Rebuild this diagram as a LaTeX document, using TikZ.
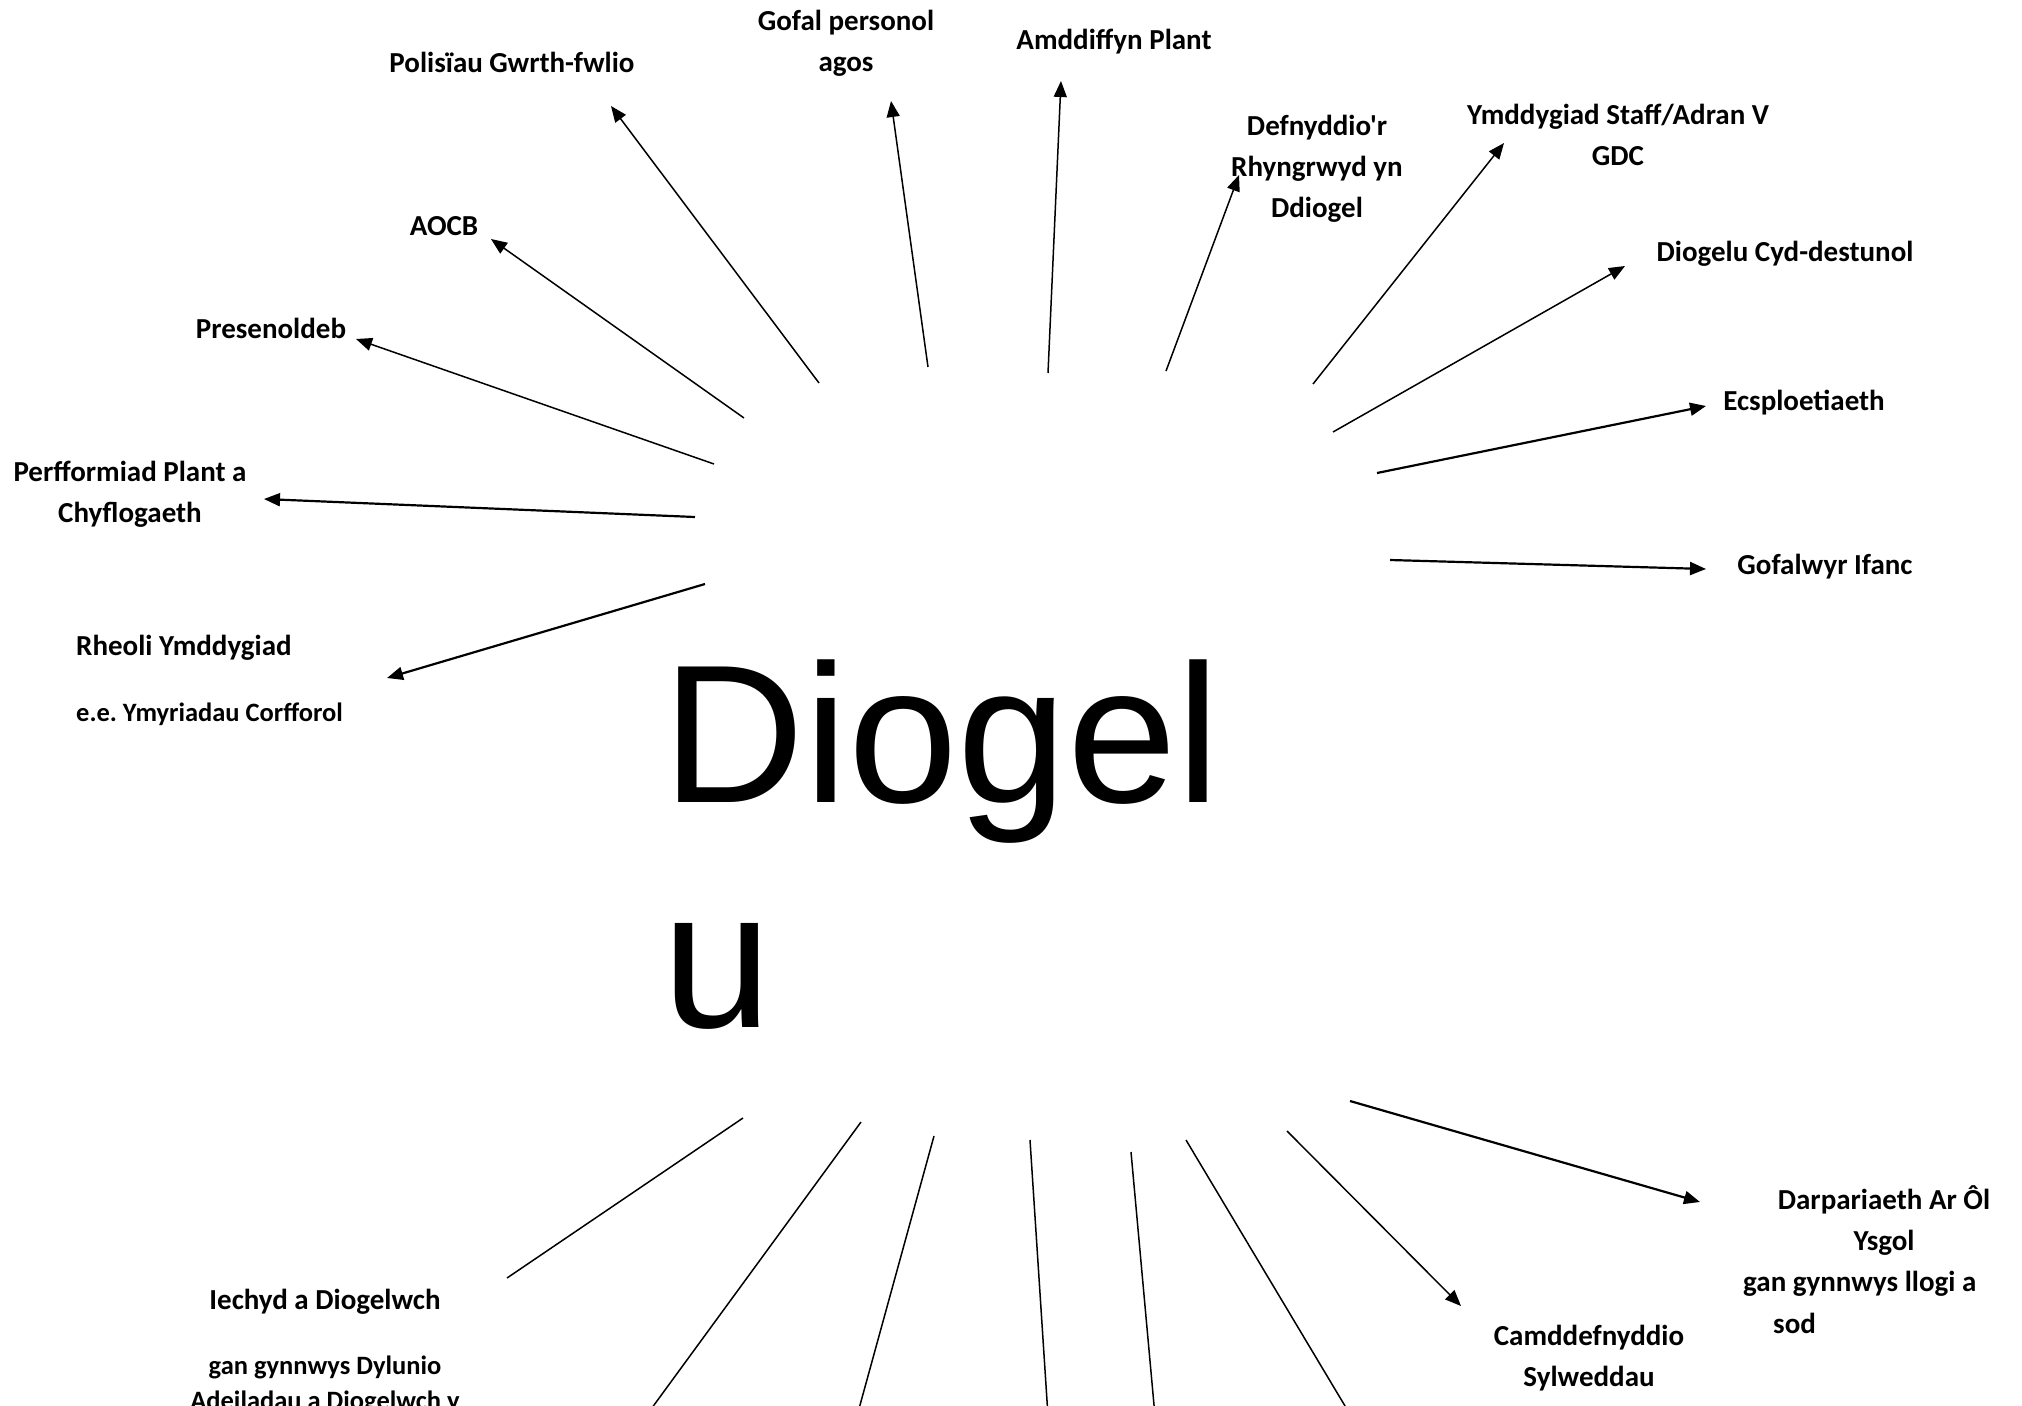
\documentclass[tikz,border=0pt]{standalone}
\usepackage{fontspec}
\setmainfont{Carlito}[Ligatures=TeXOff]
\newfontfamily\centerfont{Liberation Sans}
\usetikzlibrary{arrows.meta}
\begin{document}
\frenchspacing
\begin{tikzpicture}[x=1pt,y=-1pt,
  lab/.style={font=\bfseries\fontsize{29}{41}\selectfont, align=center, inner sep=0pt},
  sublab/.style={font=\bfseries\fontsize{26.5}{35}\selectfont, align=center, inner sep=0pt},
  big/.style={font=\centerfont\fontsize{197}{225}\selectfont, inner sep=0pt, anchor=base west},
  arr/.style={line width=1.5pt, -{Triangle[length=16pt,width=13pt]}},
  arrthick/.style={arr, line width=2.2pt},
  ln/.style={line width=1.5pt}]
\useasboundingbox (0,0) rectangle (2022,1406);
\fill[white] (0,0) rectangle (2022,1406);

% centre word
\node[big] (c1) at (662,802) {Diogel};
\node[big] (c2) at (662,1027) {u};

% labels
\begin{scope}[yshift=-3pt]
\node[lab] (polisiau) at (512,59) {Polisïau Gwrth-fwlio};
\node[lab] (gofal) at (846,40) {Gofal personol\\agos};
\node[lab] (amdd) at (1114,39) {Amddiffyn Plant};
\node[lab] (defn) at (1317,166) {Defnyddio'r\\Rhyngrwyd yn\\Ddiogel};
\node[lab] (ymdd) at (1618,132) {Ymddygiad Staff/Adran V\\GDC};
\node[lab] (cyd) at (1785,251) {Diogelu Cyd-destunol};
\node[lab] (ecs) at (1804,400) {Ecsploetiaeth};
\node[lab] (gofif) at (1825,564) {Gofalwyr Ifanc};
\node[lab] (aocb) at (444,223) {AOCB};
\node[lab] (pres) at (271,325) {Presenoldeb};
\node[lab] (perf) at (130,491) {Perfformiad Plant a\\Chyflogaeth};
\node[lab, anchor=west] (rheoli) at (76,645) {Rheoli Ymddygiad};
\node[sublab, anchor=west] (ee) at (76,711) {e.e. Ymyriadau Corfforol};
\node[lab] (iechyd) at (325,1299) {Iechyd a Diogelwch};
\node[sublab] (gan1) at (325,1382) {gan gynnwys Dylunio\\Adeiladau a Diogelwch y};
\node[lab] (camdd) at (1589,1355) {Camddefnyddio\\Sylweddau};
\node[lab] (darp) at (1884,1218) {Darpariaeth Ar Ôl\\Ysgol};
\node[lab, anchor=west] (darp2) at (1743,1281) {gan gynnwys llogi a};
\node[lab, anchor=west] (darp3) at (1773,1320) {sod};
\end{scope}

% connector end points
\coordinate (s1) at (819,383);  \coordinate (t1) at (611,106);
\coordinate (s2) at (928,367);  \coordinate (t2) at (891,101);
\coordinate (s3) at (1048,373); \coordinate (t3) at (1061,81);
\coordinate (s4) at (1166,371); \coordinate (t4) at (1239,175);
\coordinate (s5) at (1313,384); \coordinate (t5) at (1504,143);
\coordinate (s6) at (1333,432); \coordinate (t6) at (1625,266);
\coordinate (s7) at (1377,473); \coordinate (t7) at (1706,406);
\coordinate (s8) at (1390,560); \coordinate (t8) at (1706,569);
\coordinate (s9) at (744,418);  \coordinate (t9) at (491,239);
\coordinate (s10) at (714,464); \coordinate (t10) at (356,339);
\coordinate (s11) at (695,517); \coordinate (t11) at (264,499);
\coordinate (s12) at (705,584); \coordinate (t12) at (387,678);
\coordinate (s13) at (1350,1101); \coordinate (t13) at (1700,1202);
\coordinate (s14) at (1287,1131); \coordinate (t14) at (1461,1306);
\coordinate (s15) at (743,1118); \coordinate (t15) at (507,1278);
\coordinate (s16) at (861,1122); \coordinate (t16) at (646,1416);
\coordinate (s17) at (934,1136); \coordinate (t17) at (857,1416);
\coordinate (s18) at (1030,1140); \coordinate (t18) at (1048,1416);
\coordinate (s19) at (1131,1152); \coordinate (t19) at (1155,1416);
\coordinate (s20) at (1186,1140); \coordinate (t20) at (1351,1416);

\draw[arr] (s1) -- (t1);
\draw[arr] (s2) -- (t2);
\draw[arr] (s3) -- (t3);
\draw[arr] (s4) -- (t4);
\draw[arr] (s5) -- (t5);
\draw[arr] (s6) -- (t6);
\draw[arrthick] (s7) -- (t7);
\draw[arrthick] (s8) -- (t8);
\draw[arr] (s9) -- (t9);
\draw[arr] (s10) -- (t10);
\draw[arrthick] (s11) -- (t11);
\draw[arrthick] (s12) -- (t12);
\draw[arrthick] (s13) -- (t13);
\draw[arr] (s14) -- (t14);
\draw[ln] (s15) -- (t15);
\draw[ln] (s16) -- (t16);
\draw[ln] (s17) -- (t17);
\draw[ln] (s18) -- (t18);
\draw[ln] (s19) -- (t19);
\draw[ln] (s20) -- (t20);
\end{tikzpicture}
\end{document}
